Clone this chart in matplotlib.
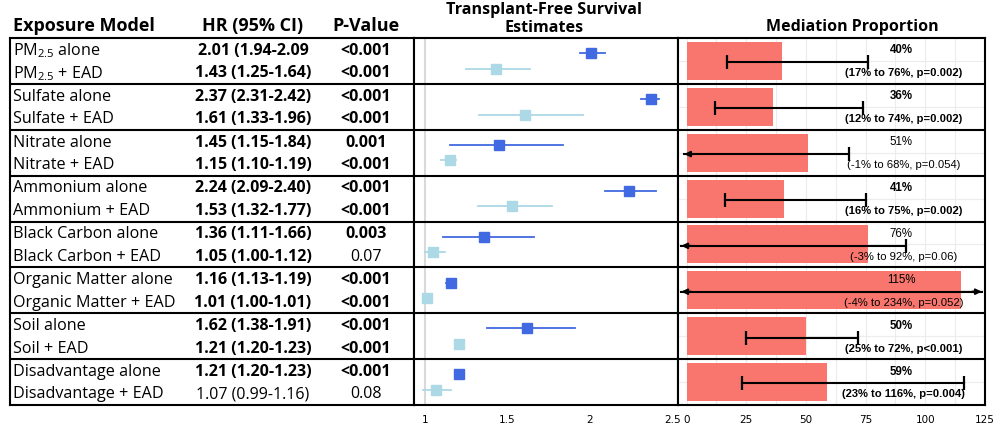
import matplotlib.pyplot as plt
from matplotlib.ticker import MultipleLocator

# --- data ---
models = ['PM2.5', 'Sulfate', 'Nitrate', 'Ammonium', 'Black Carbon',
          'Organic Matter', 'Soil', 'Disadvantage']
hr_alone = [2.01, 2.37, 1.45, 2.24, 1.36, 1.16, 1.62, 1.21]
lo_alone = [1.94, 2.31, 1.15, 2.09, 1.11, 1.13, 1.38, 1.20]
hi_alone = [2.09, 2.42, 1.84, 2.40, 1.66, 1.19, 1.91, 1.23]
hr_ead = [1.43, 1.61, 1.15, 1.53, 1.05, 1.01, 1.21, 1.07]
lo_ead = [1.25, 1.33, 1.10, 1.32, 1.00, 1.00, 1.20, 0.99]
hi_ead = [1.64, 1.96, 1.19, 1.77, 1.12, 1.01, 1.23, 1.16]
p_alone = ['<0.001', '<0.001', '0.001', '<0.001', '0.003', '<0.001', '<0.001', '<0.001']
p_ead = ['<0.001', '<0.001', '<0.001', '<0.001', '0.07', '<0.001', '<0.001', '0.08']
med = [40, 36, 51, 41, 76, 115, 50, 59]
med_lo = [17, 12, -1, 16, -3, -4, 25, 23]
med_hi = [76, 74, 68, 75, 92, 234, 72, 116]
med_p = ['0.002', '0.002', '0.054', '0.002', '0.06', '0.052', '<0.001', '0.004']

DARK = '#4169E1'
LIGHT = '#ADD8E6'
SALMON = '#F8766D'
TFONT = 'Open Sans'


def signif(p):
    return p.startswith('<') or float(p) < 0.05


def name_label(m):
    if m == 'PM2.5':
        return r'$\mathregular{PM_{2.5}}$'
    return m


fig = plt.figure(figsize=(10, 4.3), dpi=100)
H = 430


def box(x0, x1, y0=38, y1=405):
    return [x0 / 1000, 1 - y1 / H, (x1 - x0) / 1000, (y1 - y0) / H]


ax_t = fig.add_axes(box(10, 414))
ax_f = fig.add_axes(box(414, 678))
ax_m = fig.add_axes(box(678, 985))

n = len(models)
for ax in (ax_t, ax_f, ax_m):
    ax.set_ylim(n, 0)
    for s in ax.spines.values():
        s.set_linewidth(1.5)
        s.set_color('black')
    for i in range(1, n):
        ax.axhline(i, color='black', lw=1.5, zorder=5)
    ax.set_yticks([])

# --- table ---
ax_t.set_xlim(10, 414)
ax_t.set_xticks([])
for i, m in enumerate(models):
    for k, (lab, hr, lo, hi, p) in enumerate([
            ('alone', hr_alone[i], lo_alone[i], hi_alone[i], p_alone[i]),
            ('+ EAD', hr_ead[i], lo_ead[i], hi_ead[i], p_ead[i])]):
        y = i + 0.28 + 0.49 * k
        ax_t.text(13, y, name_label(m) + ' ' + lab, fontsize=11.6, family=TFONT,
                  va='center', ha='left')
        hr_txt = f'{hr:.2f} ({lo:.2f}-{hi:.2f})'
        if i == 0 and k == 0:
            hr_txt = hr_txt[:-1]  # the reference drops the closing bracket here
        ax_t.text(253, y, hr_txt, fontsize=11.5, family=TFONT, va='center', ha='center',
                  fontweight='bold' if lo >= 1.0 else 'normal')
        ax_t.text(366, y, p, fontsize=11.5, family=TFONT, va='center', ha='center',
                  fontweight='bold' if signif(p) else 'normal')

hdr = dict(fontsize=13, family=TFONT, fontweight='bold', va='center')
ax_t.text(13, -0.27, 'Exposure Model', ha='left', **hdr)
ax_t.text(253, -0.27, 'HR (95% CI)', ha='center', **hdr)
ax_t.text(366, -0.27, 'P-Value', ha='center', **hdr)

# --- forest plot ---
ax_f.set_xlim(0.934, 2.536)
ax_f.axvline(1, color='#d9d9d9', lw=1.5, zorder=0)
for i in range(n):
    ax_f.plot([lo_alone[i], hi_alone[i]], [i + 0.33, i + 0.33], color=DARK, lw=1.3)
    ax_f.plot(hr_alone[i], i + 0.33, 's', color=DARK, ms=7.5)
    ax_f.plot([lo_ead[i], hi_ead[i]], [i + 0.67, i + 0.67], color=LIGHT, lw=1.3)
    ax_f.plot(hr_ead[i], i + 0.67, 's', color=LIGHT, ms=7.5)
ax_f.set_xticks([1, 1.5, 2, 2.5])
ax_f.set_xticklabels(['1', '1.5', '2', '2.5'])
ax_f.tick_params(axis='x', length=0, pad=7, labelsize=7.5)
fig.text(0.544, 1 - 19 / H, 'Transplant-Free Survival\nEstimates', ha='center',
         va='center', fontsize=11.6, fontweight='bold', family=TFONT, linespacing=1.25)

# --- mediation proportion ---
LEFT, RIGHT = -3.6, 125
ax_m.set_xlim(LEFT, RIGHT)
ax_m.set_xticks(range(0, 126, 25))
ax_m.xaxis.set_minor_locator(MultipleLocator(12.5))
ax_m.grid(axis='x', which='both', color='#ececec', lw=0.8, zorder=0)
ax_m.set_axisbelow(True)
ax_m.tick_params(axis='x', which='both', length=0, pad=7, labelsize=7.5)
for i in range(n):
    ax_m.axhline(i + 0.5, color='#ececec', lw=0.8, zorder=0)
ax_m.barh([i + 0.5 for i in range(n)], med, height=0.83, color=SALMON, zorder=2)
a_lo, a_hi = -2.2, 123.6
for i in range(n):
    y = i + 0.53
    x0 = max(med_lo[i], a_lo)
    x1 = min(med_hi[i], a_hi)
    ax_m.plot([x0, x1], [y, y], color='black', lw=1.5, zorder=3)
    arrow = dict(arrowstyle='-|>', color='black', lw=1.5, mutation_scale=8,
                 shrinkA=0, shrinkB=0)
    if med_lo[i] < 0:
        ax_m.annotate('', xy=(x0, y), xytext=(x0 + 4, y), arrowprops=arrow, zorder=3)
    else:
        ax_m.plot(x0, y, '|', color='black', ms=10, mew=1.6, zorder=3)
    if med_hi[i] > RIGHT:
        ax_m.annotate('', xy=(x1, y), xytext=(x1 - 4, y), arrowprops=arrow, zorder=3)
    else:
        ax_m.plot(x1, y, '|', color='black', ms=10, mew=1.6, zorder=3)
    w = 'bold' if signif(med_p[i]) else 'normal'
    ax_m.text(90, i + 0.27, f'{med[i]}%', ha='center', va='center', fontsize=8.3,
              family='Liberation Sans', fontweight=w, zorder=4)
    ps = f'p{med_p[i]}' if med_p[i].startswith('<') else f'p={med_p[i]}'
    ax_m.text(91, i + 0.77, f'({med_lo[i]}% to {med_hi[i]}%, {ps})', ha='center',
              va='center', fontsize=8.1, family='Liberation Sans', fontweight=w, zorder=4)
fig.text(0.852, 1 - 27 / H, 'Mediation Proportion', ha='center', va='center',
         fontsize=11.5, fontweight='bold', family=TFONT)

fig.savefig('out.png', dpi=100)
